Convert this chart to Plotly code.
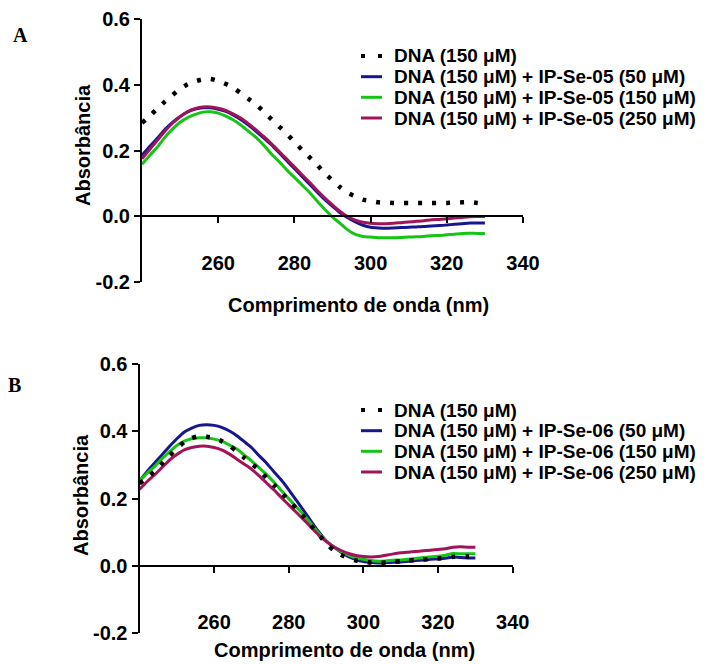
import plotly.graph_objects as go

# ---------------- data ----------------
wavelength = list(range(240, 332, 2))

dna_A = [0.284, 0.305, 0.327, 0.349, 0.369, 0.388, 0.402, 0.411, 0.417, 0.418,
         0.412, 0.403, 0.391, 0.374, 0.357, 0.340, 0.318, 0.295, 0.273, 0.251,
         0.226, 0.202, 0.179, 0.156, 0.130, 0.109, 0.088, 0.071, 0.060, 0.050,
         0.046, 0.042, 0.041, 0.040, 0.040, 0.040, 0.040, 0.040, 0.040, 0.040,
         0.040, 0.041, 0.042, 0.043, 0.040, 0.037]
ip05_50 = [0.185, 0.212, 0.237, 0.264, 0.286, 0.304, 0.318, 0.326, 0.330, 0.330,
           0.326, 0.319, 0.308, 0.294, 0.277, 0.258, 0.238, 0.217, 0.193, 0.169,
           0.145, 0.121, 0.097, 0.073, 0.050, 0.030, 0.010, -0.005, -0.018, -0.028,
           -0.034, -0.036, -0.037, -0.036, -0.035, -0.034, -0.033, -0.032, -0.030, -0.029,
           -0.027, -0.025, -0.023, -0.021, -0.021, -0.021]
ip05_150 = [0.158, 0.185, 0.210, 0.240, 0.265, 0.286, 0.300, 0.310, 0.317, 0.318,
            0.314, 0.305, 0.293, 0.277, 0.258, 0.239, 0.215, 0.189, 0.166, 0.141,
            0.118, 0.095, 0.072, 0.045, 0.020, -0.003, -0.022, -0.042, -0.056, -0.062,
            -0.064, -0.066, -0.066, -0.066, -0.065, -0.064, -0.063, -0.062, -0.060, -0.059,
            -0.057, -0.055, -0.053, -0.052, -0.053, -0.053]
ip05_250 = [0.175, 0.203, 0.231, 0.259, 0.283, 0.303, 0.319, 0.328, 0.333, 0.333,
            0.329, 0.322, 0.311, 0.298, 0.281, 0.262, 0.242, 0.220, 0.197, 0.174,
            0.150, 0.126, 0.103, 0.078, 0.055, 0.034, 0.014, -0.002, -0.012, -0.019,
            -0.022, -0.023, -0.023, -0.022, -0.020, -0.018, -0.016, -0.014, -0.011, -0.010,
            -0.008, -0.006, -0.004, -0.002, -0.001, -0.001]

dna_B = [0.245, 0.262, 0.281, 0.304, 0.327, 0.349, 0.368, 0.380, 0.386, 0.384,
         0.380, 0.371, 0.358, 0.341, 0.322, 0.304, 0.286, 0.262, 0.240, 0.218,
         0.194, 0.170, 0.146, 0.119, 0.093, 0.066, 0.046, 0.032, 0.022, 0.015,
         0.012, 0.009, 0.008, 0.009, 0.011, 0.013, 0.015, 0.017, 0.018, 0.020,
         0.021, 0.023, 0.026, 0.027, 0.027, 0.027]
ip06_50 = [0.252, 0.280, 0.305, 0.330, 0.355, 0.378, 0.398, 0.410, 0.418, 0.420,
           0.418, 0.412, 0.402, 0.388, 0.370, 0.352, 0.328, 0.306, 0.280, 0.255,
           0.226, 0.195, 0.164, 0.132, 0.101, 0.074, 0.056, 0.040, 0.027, 0.018,
           0.012, 0.009, 0.008, 0.009, 0.010, 0.011, 0.013, 0.015, 0.017, 0.019,
           0.020, 0.022, 0.026, 0.024, 0.023, 0.023]
ip06_150 = [0.252, 0.275, 0.295, 0.318, 0.339, 0.358, 0.371, 0.378, 0.381, 0.381,
            0.377, 0.371, 0.360, 0.348, 0.330, 0.312, 0.292, 0.272, 0.249, 0.224,
            0.199, 0.175, 0.151, 0.124, 0.097, 0.074, 0.056, 0.042, 0.031, 0.023,
            0.019, 0.015, 0.013, 0.014, 0.016, 0.017, 0.019, 0.021, 0.024, 0.026,
            0.028, 0.031, 0.036, 0.035, 0.035, 0.035]
ip06_250 = [0.227, 0.250, 0.270, 0.292, 0.314, 0.331, 0.345, 0.352, 0.356, 0.356,
            0.352, 0.345, 0.333, 0.318, 0.303, 0.288, 0.268, 0.247, 0.226, 0.203,
            0.181, 0.159, 0.137, 0.114, 0.091, 0.072, 0.056, 0.045, 0.036, 0.030,
            0.027, 0.026, 0.027, 0.031, 0.035, 0.038, 0.040, 0.042, 0.044, 0.046,
            0.048, 0.050, 0.055, 0.056, 0.055, 0.055]

labels_A = ["DNA (150 μM)", "DNA (150 μM) + IP-Se-05 (50 μM)",
            "DNA (150 μM) + IP-Se-05 (150 μM)", "DNA (150 μM) + IP-Se-05 (250 μM)"]
labels_B = ["DNA (150 μM)", "DNA (150 μM) + IP-Se-06 (50 μM)",
            "DNA (150 μM) + IP-Se-06 (150 μM)", "DNA (150 μM) + IP-Se-06 (250 μM)"]

x_ticks = [260, 280, 300, 320, 340]
y_ticks = [-0.2, 0.0, 0.2, 0.4, 0.6]
y_ticktext = ["-0.2", "0.0", "0.2", "0.4", "0.6"]
x_title = "Comprimento de onda (nm)"
y_title = "Absorbância"

# ---------------- styles ----------------
# the page body has an 8px margin, so the figure is drawn 8px in from the corner
OFF = 8
W, H = 714 - OFF, 664 - OFF
FONT = "Liberation Sans, Arial, sans-serif"
SERIF = "Liberation Serif, Times New Roman, serif"
FS = 20
LEG_FS = 19
styles = [
    dict(color="#000000", width=4.5, dash="4px,10px"),
    dict(color="#16168e", width=3),
    dict(color="#16c416", width=3),
    dict(color="#a1145a", width=3),
]


def px(x):
    return (x - OFF) / W


def py(y):
    return 1 - (y - OFF) / H


fig = go.Figure()

panels = [
    dict(series=[dna_A, ip05_50, ip05_150, ip05_250], labels=labels_A,
         xa="x", ya="y", xdom=(142, 523), ydom=(19.3, 281.7),
         standoff=23, xtitle=(358, 305), ytitle=(83, 145),
         letter="A", lpos=(20, 35), leg_rows=[56, 76.7, 97.3, 118]),
    dict(series=[dna_B, ip06_50, ip06_150, ip06_250], labels=labels_B,
         xa="x2", ya="y2", xdom=(139.5, 512.7), ydom=(364.3, 632.7),
         standoff=32, xtitle=(344, 650), ytitle=(81, 495),
         letter="B", lpos=(14, 385), leg_rows=[410, 430.7, 451.3, 472]),
]

annotations = []
shapes = []
for i, p in enumerate(panels):
    # coloured curves first, the dotted DNA curve on top
    order = [1, 2, 3, 0]
    for k in order:
        s, st, lab = p["series"][k], styles[k], p["labels"][k]
        fig.add_trace(go.Scatter(
            x=wavelength, y=s, mode="lines", name=lab,
            line=dict(color=st["color"], width=st["width"], dash=st.get("dash", "solid"),
                      shape="spline", smoothing=0.6),
            xaxis=p["xa"], yaxis=p["ya"], showlegend=False,
        ))
    suffix = "" if i == 0 else "2"
    y0, y1 = p["ydom"]
    # pixel row of y = 0
    zero_px = y0 + (y1 - y0) * (0.6 - 0.0) / 0.8
    fig.layout["xaxis" + suffix] = dict(
        domain=[px(p["xdom"][0]), px(p["xdom"][1])],
        range=[240, 340], anchor="free", position=py(zero_px), automargin=False,
        tickvals=x_ticks, ticks="outside", ticklen=6, tickwidth=2, tickcolor="black",
        showline=True, linewidth=2, linecolor="black", showgrid=False, zeroline=False,
        ticklabelstandoff=p["standoff"],
        tickfont=dict(family=FONT, size=FS, color="black", weight="bold"),
    )
    fig.layout["yaxis" + suffix] = dict(
        domain=[py(y1), py(y0)], range=[-0.2, 0.6], anchor="x" + suffix, automargin=False,
        tickvals=y_ticks, ticktext=y_ticktext, ticks="outside", ticklen=6, tickwidth=2,
        tickcolor="black", showline=True, linewidth=2, linecolor="black",
        showgrid=False, zeroline=False,
        tickfont=dict(family=FONT, size=FS, color="black", weight="bold"),
    )
    annotations.append(dict(text=x_title, x=px(p["xtitle"][0]), y=py(p["xtitle"][1]),
                            xref="paper", yref="paper", showarrow=False,
                            xanchor="center", yanchor="middle",
                            font=dict(family=FONT, size=FS, color="black", weight="bold")))
    annotations.append(dict(text=y_title, x=px(p["ytitle"][0]), y=py(p["ytitle"][1]),
                            xref="paper", yref="paper", showarrow=False, textangle=-90,
                            xanchor="center", yanchor="middle",
                            font=dict(family=FONT, size=FS, color="black", weight="bold")))
    annotations.append(dict(text=p["letter"], x=px(p["lpos"][0]), y=py(p["lpos"][1]),
                            xref="paper", yref="paper", showarrow=False,
                            xanchor="center", yanchor="middle",
                            font=dict(family=SERIF, size=FS, color="black", weight="bold")))
    # legend (swatch + label per series)
    for row, lab, st in zip(p["leg_rows"], p["labels"], styles):
        if "dash" in st:
            for sx in (361, 378):
                shapes.append(dict(type="rect", xref="paper", yref="paper",
                                   x0=px(sx), x1=px(sx + 4), y0=py(row - 2), y1=py(row + 2),
                                   fillcolor=st["color"], line=dict(width=0)))
        else:
            shapes.append(dict(type="line", xref="paper", yref="paper",
                               x0=px(361), x1=px(382), y0=py(row), y1=py(row),
                               line=dict(color=st["color"], width=st["width"])))
        annotations.append(dict(text=lab, x=px(392), y=py(row), xref="paper", yref="paper",
                                showarrow=False, xanchor="left", yanchor="middle",
                                font=dict(family=FONT, size=LEG_FS, color="black", weight="bold")))

fig.update_layout(
    width=W, height=H, margin=dict(l=0, r=0, t=0, b=0, autoexpand=False),
    paper_bgcolor="white", plot_bgcolor="white",
    annotations=annotations, shapes=shapes, showlegend=False,
)

fig.write_html("out.html")
